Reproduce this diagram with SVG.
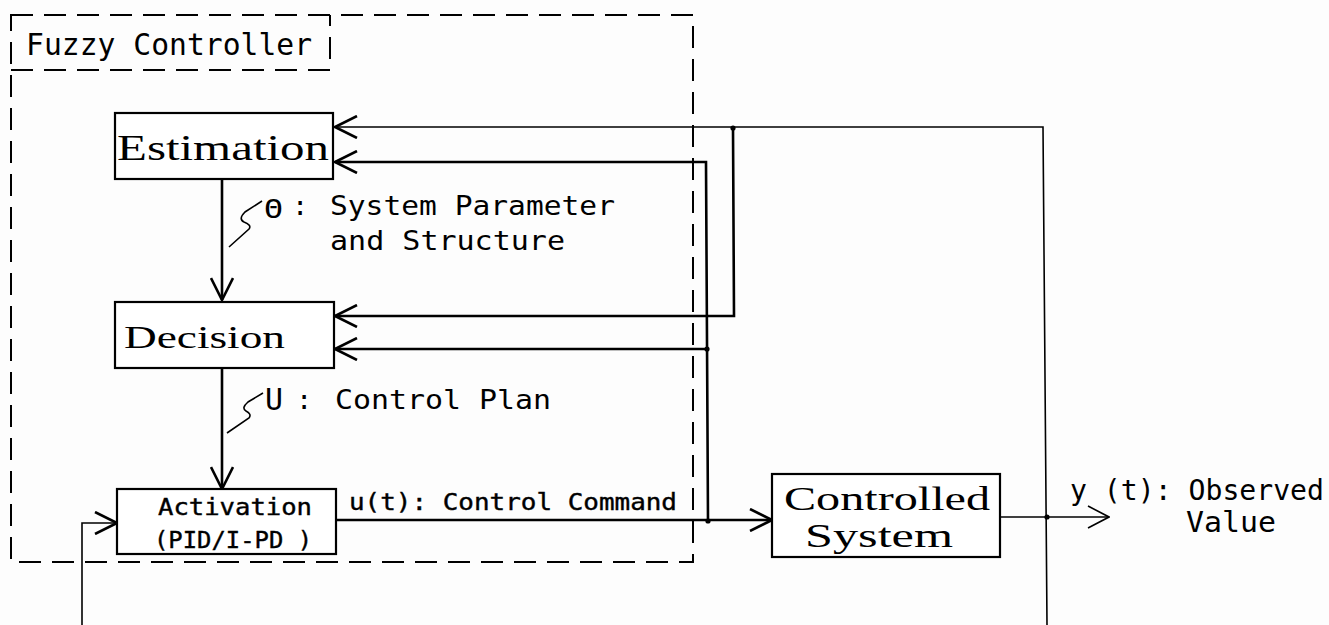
<svg xmlns="http://www.w3.org/2000/svg" width="1329" height="625" viewBox="0 0 1329 625">
  <style>
    .box { fill: #fff; stroke: #000; stroke-width: 2.2; }
    .frame { fill: none; stroke: #000; stroke-width: 2; stroke-dasharray: 22 11; }
    .wire { fill: none; stroke: #000; stroke-width: 2.6; }
    .thin { fill: none; stroke: #000; stroke-width: 1.6; }
    .serif { font-family: "Liberation Serif", "Times New Roman", serif; fill: #000; }
    .mono { font-family: "DejaVu Sans Mono", "Liberation Mono", monospace; fill: #000; }
    .heavy { stroke: #000; stroke-width: 0.4; }
  </style>
  <defs>
    <marker id="arrow" viewBox="0 0 24 24" refX="23" refY="12" markerWidth="24" markerHeight="24" markerUnits="userSpaceOnUse" orient="auto">
      <path d="M1,1 L23,12 L1,23" fill="none" stroke="#000" stroke-width="2.6"/>
    </marker>
    <marker id="arrowThin" viewBox="0 0 24 24" refX="23" refY="12" markerWidth="24" markerHeight="24" markerUnits="userSpaceOnUse" orient="auto">
      <path d="M2,1 L23,12 L2,23" fill="none" stroke="#000" stroke-width="1.6"/>
    </marker>
  </defs>
  <rect width="1329" height="625" fill="#fdfdfd"/>

  <!-- controller frame with its title tab -->
  <g id="fuzzy-controller">
    <rect class="frame" x="11" y="15" width="682" height="547"/>
    <path class="frame" d="M11,70 H330 V15"/>
    <text class="mono" x="26" y="55" font-size="30" textLength="286" lengthAdjust="spacingAndGlyphs">Fuzzy Controller</text>
  </g>

  <!-- signal lines -->
  <g id="connectors">
    <path class="wire" d="M222,179 V300" marker-end="url(#arrow)"/>
    <path class="wire" d="M222,368 V489" marker-end="url(#arrow)"/>
    <path class="wire" d="M336,520 H772" marker-end="url(#arrow)"/>
    <path class="thin" d="M1000,517 H1109" marker-end="url(#arrowThin)"/>
    <path class="thin" d="M1047,625 L1043,127 H335" marker-end="url(#arrow)"/>
    <path class="wire" d="M733,128 L734,316 H335" marker-end="url(#arrow)"/>
    <path class="wire" d="M708,521 L706,162 H335" marker-end="url(#arrow)"/>
    <path class="wire" d="M708,349 H335" marker-end="url(#arrow)"/>
    <path class="thin" d="M82,625 V523 H117" marker-end="url(#arrow)"/>
    <circle cx="733" cy="128" r="2.6"/>
    <circle cx="707" cy="349" r="2.6"/>
    <circle cx="708" cy="521" r="2.6"/>
    <circle cx="1047" cy="517" r="2.6"/>
  </g>

  <g id="estimation">
    <rect class="box" x="115" y="113" width="218" height="66"/>
    <text class="serif" x="117" y="160" font-size="35" textLength="212" lengthAdjust="spacingAndGlyphs">Estimation</text>
  </g>

  <g id="theta-label">
    <path class="thin" d="M229,247 L249,229 Q252,225 244,222 Q238,219 245,212 L262,201"/>
    <text class="mono" x="264" y="218" font-size="26" textLength="19" lengthAdjust="spacingAndGlyphs">Θ</text>
    <text class="mono" x="292" y="215" font-size="27">:</text>
    <text class="mono" x="330" y="215" font-size="27" textLength="285" lengthAdjust="spacingAndGlyphs">System Parameter</text>
    <text class="mono" x="330" y="250" font-size="27" textLength="235" lengthAdjust="spacingAndGlyphs">and Structure</text>
  </g>

  <g id="decision">
    <rect class="box" x="115" y="302" width="219" height="66"/>
    <text class="serif" x="124" y="348" font-size="32" textLength="161" lengthAdjust="spacingAndGlyphs">Decision</text>
  </g>

  <g id="u-label">
    <path class="thin" d="M227,433 L249,418 Q252,414 246,411 Q241,408 248,402 L263,393"/>
    <text class="mono" x="265" y="410" font-size="31" textLength="18" lengthAdjust="spacingAndGlyphs">U</text>
    <text class="mono" x="296" y="409" font-size="27">:</text>
    <text class="mono" x="335" y="409" font-size="27" textLength="216" lengthAdjust="spacingAndGlyphs">Control Plan</text>
  </g>

  <g id="activation">
    <rect class="box" x="117" y="489" width="219" height="65"/>
    <text class="mono heavy" x="158" y="515" font-size="23" textLength="154" lengthAdjust="spacingAndGlyphs">Activation</text>
    <text class="mono heavy" x="154" y="548" font-size="23" textLength="158" lengthAdjust="spacingAndGlyphs">(PID/I-PD )</text>
  </g>

  <text class="mono heavy" x="349" y="510" font-size="23" textLength="328" lengthAdjust="spacingAndGlyphs">u(t): Control Command</text>

  <g id="controlled-system">
    <rect class="box" x="772" y="474" width="228" height="83"/>
    <text class="serif" x="784" y="510" font-size="33" textLength="206" lengthAdjust="spacingAndGlyphs">Controlled</text>
    <text class="serif" x="805" y="547" font-size="33" textLength="148" lengthAdjust="spacingAndGlyphs">System</text>
  </g>

  <g id="output-label">
    <text class="mono" x="1070" y="500" font-size="28" textLength="254" lengthAdjust="spacingAndGlyphs">y (t): Observed</text>
    <text class="mono" x="1186" y="532" font-size="28" textLength="90" lengthAdjust="spacingAndGlyphs">Value</text>
  </g>
</svg>
